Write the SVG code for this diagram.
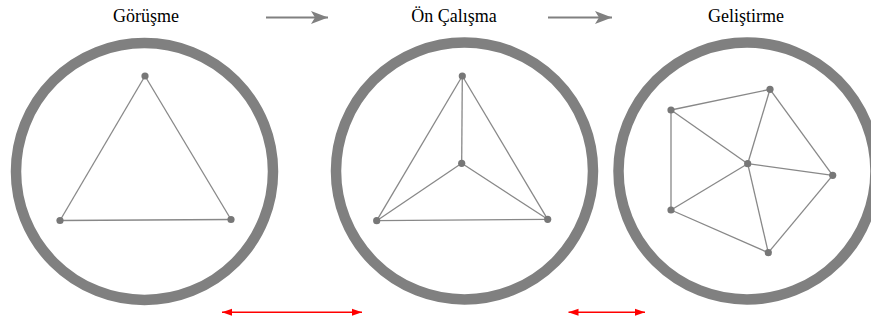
<svg xmlns="http://www.w3.org/2000/svg" width="871" height="322" viewBox="0 0 871 322">
<style>
.title{font-family:"Liberation Serif","Times New Roman",serif;font-size:18px;fill:#000;text-anchor:middle}
.ring{fill:none;stroke:#808080;stroke-width:10.5}
.edge{stroke:#888;stroke-width:1.3;fill:none}
.dot{fill:#777}
.flow{stroke:#808080;stroke-width:2;fill:none}
.span{stroke:#ff0000;stroke-width:1.6;fill:none}
</style>
<defs>
<marker id="grayHead" markerWidth="20" markerHeight="14" refX="17" refY="6.5" orient="auto" markerUnits="userSpaceOnUse">
<path d="M0,0 L17,6.5 L0,13 L4,6.5 Z" fill="#808080"/>
</marker>
<marker id="redEnd" markerWidth="12" markerHeight="8" refX="10" refY="4" orient="auto" markerUnits="userSpaceOnUse">
<path d="M0,0.5 L10,4 L0,7.5 Z" fill="#ff0000"/>
</marker>
<marker id="redStart" markerWidth="12" markerHeight="8" refX="0" refY="4" orient="auto" markerUnits="userSpaceOnUse">
<path d="M10,0.5 L0,4 L10,7.5 Z" fill="#ff0000"/>
</marker>
</defs>

<g id="title-gorusme"><text class="title" x="146" y="22">Görüşme</text></g>
<g id="title-on-calisma"><text class="title" x="454" y="22">Ön Çalışma</text></g>
<g id="title-gelistirme"><text class="title" x="746" y="22">Geliştirme</text></g>

<g id="stage1">
<circle class="ring" cx="144.5" cy="171.5" r="128.5"/>
<g class="edges">
<line class="edge" x1="145" y1="76" x2="60" y2="220.5"/>
<line class="edge" x1="145" y1="76" x2="231" y2="219.5"/>
<line class="edge" x1="60" y1="220.5" x2="231" y2="219.5"/>
</g>
<circle class="dot" cx="145" cy="76" r="3.6"/>
<circle class="dot" cx="60" cy="220.5" r="3.6"/>
<circle class="dot" cx="231" cy="219.5" r="3.6"/>
</g>

<g id="stage2">
<circle class="ring" cx="464.5" cy="171" r="128.5"/>
<g class="edges">
<line class="edge" x1="462.3" y1="76" x2="376.7" y2="220.7"/>
<line class="edge" x1="462.3" y1="76" x2="547.7" y2="219.3"/>
<line class="edge" x1="376.7" y1="220.7" x2="547.7" y2="219.3"/>
<line class="edge" x1="462.3" y1="76" x2="461.7" y2="163.3"/>
<line class="edge" x1="461.7" y1="163.3" x2="376.7" y2="220.7"/>
<line class="edge" x1="461.7" y1="163.3" x2="547.7" y2="219.3"/>
</g>
<circle class="dot" cx="462.3" cy="76" r="3.6"/>
<circle class="dot" cx="461.7" cy="163.3" r="3.6"/>
<circle class="dot" cx="376.7" cy="220.7" r="3.6"/>
<circle class="dot" cx="547.7" cy="219.3" r="3.6"/>
</g>

<g id="stage3">
<circle class="ring" cx="747" cy="171" r="128.5"/>
<g class="edges">
<line class="edge" x1="671" y1="110" x2="770" y2="89.3"/>
<line class="edge" x1="770" y1="89.3" x2="832.7" y2="175.3"/>
<line class="edge" x1="832.7" y1="175.3" x2="768.3" y2="252.7"/>
<line class="edge" x1="768.3" y1="252.7" x2="671" y2="210"/>
<line class="edge" x1="671" y1="210" x2="671" y2="110"/>
<line class="edge" x1="747.7" y1="163.7" x2="671" y2="110"/>
<line class="edge" x1="747.7" y1="163.7" x2="770" y2="89.3"/>
<line class="edge" x1="747.7" y1="163.7" x2="832.7" y2="175.3"/>
<line class="edge" x1="747.7" y1="163.7" x2="768.3" y2="252.7"/>
<line class="edge" x1="747.7" y1="163.7" x2="671" y2="210"/>
</g>
<circle class="dot" cx="671" cy="110" r="3.6"/>
<circle class="dot" cx="770" cy="89.3" r="3.6"/>
<circle class="dot" cx="747.7" cy="163.7" r="3.6"/>
<circle class="dot" cx="832.7" cy="175.3" r="3.6"/>
<circle class="dot" cx="768.3" cy="252.7" r="3.6"/>
<circle class="dot" cx="671" cy="210" r="3.6"/>
</g>

<g id="connectors">
<line class="flow" x1="266" y1="17.5" x2="328" y2="17.5" marker-end="url(#grayHead)"/>
<line class="flow" x1="548" y1="17.5" x2="612" y2="17.5" marker-end="url(#grayHead)"/>
<line class="span" x1="222" y1="312.3" x2="362" y2="312.3" marker-start="url(#redStart)" marker-end="url(#redEnd)"/>
<line class="span" x1="568.5" y1="312.3" x2="645" y2="312.3" marker-start="url(#redStart)" marker-end="url(#redEnd)"/>
</g>
</svg>
